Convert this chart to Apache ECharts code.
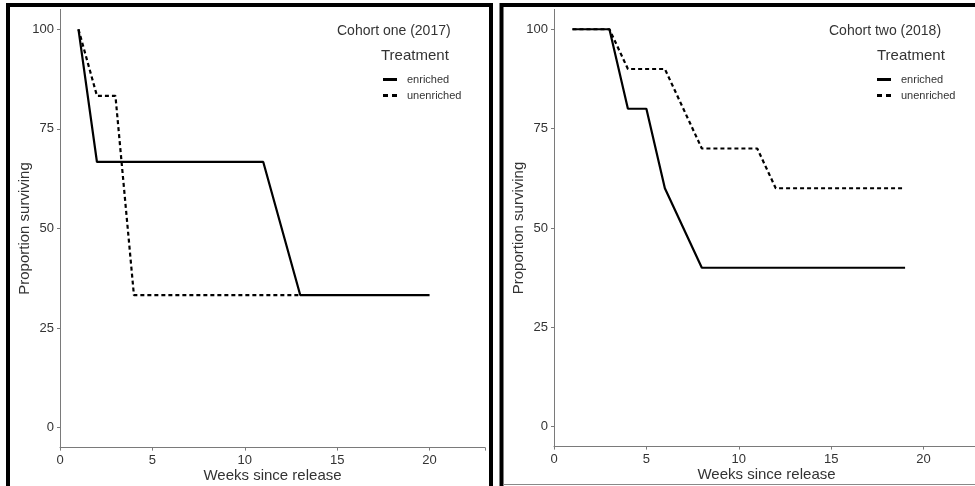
<!DOCTYPE html>
<html>
<head>
<meta charset="utf-8">
<script src="https://cdn.jsdelivr.net/npm/echarts@6/dist/echarts.min.js"></script>
<style>
html,body{margin:0;padding:0;background:#fff;}
#chart{width:975px;height:486px;}
</style>
</head>
<body>
<div id="chart"></div>
<script>
// Data
const xTicks = [0, 5, 10, 15, 20];
const yTicks = [0, 25, 50, 75, 100];
const seriesNames = ['enriched', 'unenriched'];
const panelTitles = ['Cohort one (2017)', 'Cohort two (2018)'];
const legendTitle = 'Treatment';
const xAxisTitle = 'Weeks since release';
const yAxisTitle = 'Proportion surviving';

// Cohort one (2017)
const c1EnrichedWeeks = [1, 2, 11, 13, 20];
const c1EnrichedSurv  = [100, 66.7, 66.7, 33.3, 33.3];
const c1UnenrichedWeeks = [1, 2, 3, 4, 13];
const c1UnenrichedSurv  = [100, 83.3, 83.3, 33.3, 33.3];

// Cohort two (2018)
const c2EnrichedWeeks = [1, 3, 4, 5, 6, 8, 19];
const c2EnrichedSurv  = [100, 100, 80, 80, 60, 40, 40];
const c2UnenrichedWeeks = [1, 3, 4, 6, 8, 11, 12, 19];
const c2UnenrichedSurv  = [100, 100, 90, 90, 70, 70, 60, 60];

function pairs(xs, ys) { return xs.map((x, i) => [x, ys[i]]); }

const axisColor = '#7a7a7a';
const labelColor = '#333';
const fontFam = 'Liberation Sans, Arial, sans-serif';
const solidIcon = 'path://M0,0h14v3h-14z';
const dashIcon = 'path://M0,0h5v3h-5zM9,0h5v3h-5z';

function xAxis(idx) {
  return {
    type: 'value', gridIndex: idx, min: 0, max: 23, interval: 5,
    name: xAxisTitle, nameLocation: 'middle', nameGap: 21, nameMoveOverlap: false,
    nameTextStyle: { fontSize: 15, color: labelColor, fontFamily: fontFam },
    axisLine: { show: true, onZero: false, lineStyle: { color: axisColor, width: 1 } },
    axisTick: { show: true, length: 3, lineStyle: { color: axisColor } },
    axisLabel: { color: labelColor, fontSize: 13, margin: 6, fontFamily: fontFam,
      formatter: v => (xTicks.indexOf(v) >= 0 ? String(v) : '') },
    splitLine: { show: false }
  };
}
function yAxis(idx) {
  return {
    type: 'value', gridIndex: idx, min: -5, max: 105, interval: 25,
    name: yAxisTitle, nameLocation: 'middle', nameGap: 28, nameRotate: 90, nameMoveOverlap: false,
    nameTextStyle: { fontSize: 15, color: labelColor, fontFamily: fontFam },
    axisLine: { show: true, onZero: false, lineStyle: { color: axisColor, width: 1 } },
    axisTick: { show: true, length: 3, lineStyle: { color: axisColor },
      customValues: yTicks },
    axisLabel: { color: labelColor, fontSize: 13, margin: 6, fontFamily: fontFam,
      customValues: yTicks,
      formatter: v => (yTicks.indexOf(v) >= 0 ? String(v) : '') },
    splitLine: { show: false }
  };
}
function line(name, data, idx, dashed) {
  return {
    name: name, type: 'line', xAxisIndex: idx, yAxisIndex: idx,
    data: data, symbol: 'none', showSymbol: false, animation: false,
    lineStyle: { color: '#000', width: 2.2, type: dashed ? [4, 3] : 'solid' },
    itemStyle: { color: '#000' }
  };
}
function legend(idx, left) {
  return {
    data: [
      { name: seriesNames[0], icon: solidIcon },
      { name: seriesNames[1], icon: dashIcon }
    ],
    orient: 'vertical', left: left, top: 73, padding: 0,
    itemWidth: 14, itemHeight: 3, itemGap: 3,
    itemStyle: { color: '#000', borderWidth: 0 },
    lineStyle: { width: 0 },
    textStyle: { fontSize: 11, color: labelColor, fontFamily: fontFam, padding: [0, 0, 0, 5], lineHeight: 13 },
    selectedMode: false
  };
}

const chart = echarts.init(document.getElementById('chart'), null, { renderer: 'canvas' });

const option = {
  backgroundColor: '#fff',
  animation: false,
  textStyle: { fontFamily: fontFam },
  grid: [
    { left: 60, top: 9.4, width: 425, height: 438.2, outerBoundsMode: 'none', containLabel: false },
    { left: 554, top: 9.4, width: 425, height: 437.2, outerBoundsMode: 'none', containLabel: false }
  ],
  xAxis: [xAxis(0), xAxis(1)],
  yAxis: [yAxis(0), yAxis(1)],
  title: [
    { text: panelTitles[0], left: 337, top: 24, textStyle: { fontSize: 14, fontWeight: 'normal', color: labelColor, fontFamily: fontFam }, padding: 0 },
    { text: legendTitle, left: 381, top: 48, textStyle: { fontSize: 15, fontWeight: 'normal', color: labelColor, fontFamily: fontFam }, padding: 0 },
    { text: panelTitles[1], left: 829, top: 24, textStyle: { fontSize: 14, fontWeight: 'normal', color: labelColor, fontFamily: fontFam }, padding: 0 },
    { text: legendTitle, left: 877, top: 48, textStyle: { fontSize: 15, fontWeight: 'normal', color: labelColor, fontFamily: fontFam }, padding: 0 }
  ],
  legend: [legend(0, 383), legend(1, 877)],
  series: [
    line(seriesNames[0], pairs(c1EnrichedWeeks, c1EnrichedSurv), 0, false),
    line(seriesNames[1], pairs(c1UnenrichedWeeks, c1UnenrichedSurv), 0, true),
    line(seriesNames[0], pairs(c2EnrichedWeeks, c2EnrichedSurv), 1, false),
    line(seriesNames[1], pairs(c2UnenrichedWeeks, c2UnenrichedSurv), 1, true)
  ],
  graphic: [
    // left panel frame
    { type: 'rect', shape: { x: 8, y: 5, width: 483, height: 500 }, style: { fill: 'none', stroke: '#000', lineWidth: 4 }, silent: true },
    // right panel frame
    { type: 'rect', shape: { x: 501.5, y: 5, width: 500, height: 500 }, style: { fill: 'none', stroke: '#000', lineWidth: 4 }, silent: true },
    { type: 'line', shape: { x1: 503, y1: 484.5, x2: 975, y2: 484.5 }, style: { stroke: '#888', lineWidth: 1 }, silent: true }
  ]
};
chart.setOption(option);
</script>
</body>
</html>
